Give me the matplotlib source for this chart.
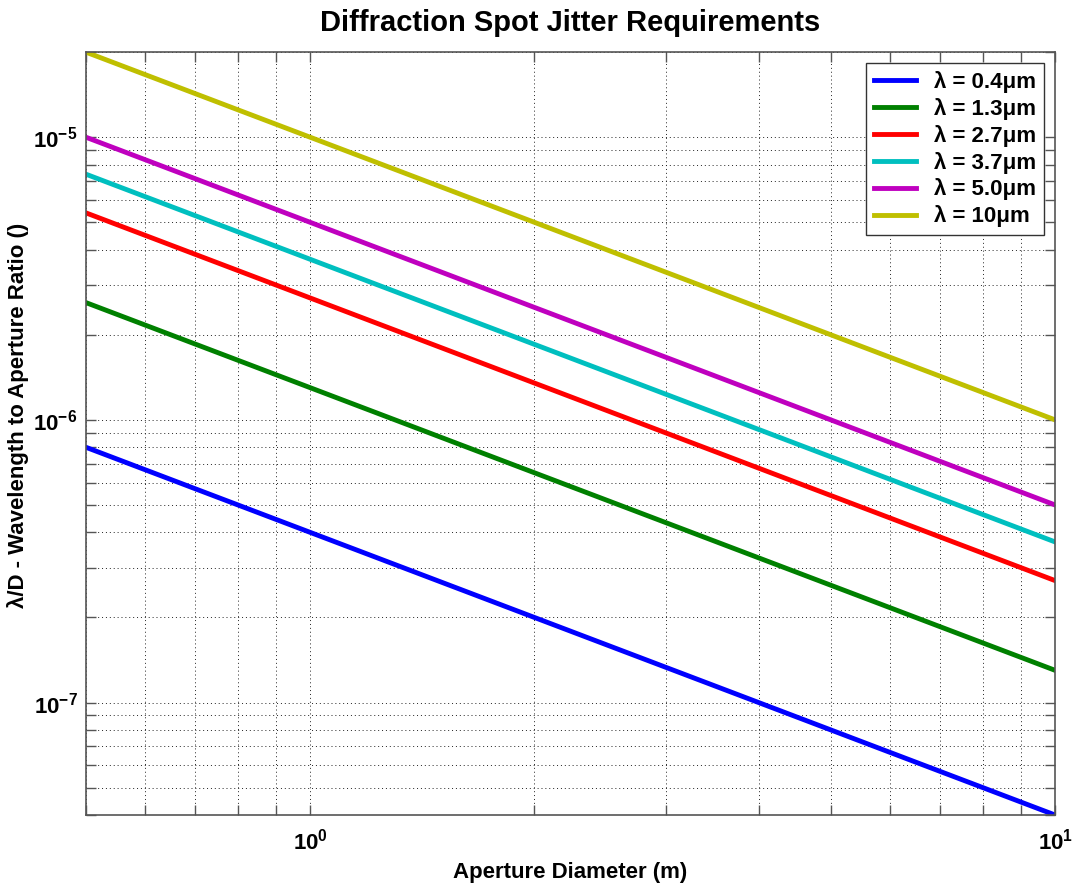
import matplotlib
matplotlib.use('Agg')
import matplotlib.pyplot as plt
from matplotlib.ticker import LogLocator

plt.rcParams['font.family'] = ['Liberation Sans', 'DejaVu Sans']
plt.rcParams['font.weight'] = 'bold'
plt.rcParams['mathtext.fontset'] = 'custom'
plt.rcParams['mathtext.rm'] = 'Liberation Sans:bold'
plt.rcParams['mathtext.bf'] = 'Liberation Sans:bold'
plt.rcParams['mathtext.default'] = 'bf'

# aperture diameter range (m)
diameter = [0.5, 10]

# lambda/D at each end of the diameter range
labels = ['λ = 0.4μm', 'λ = 1.3μm', 'λ = 2.7μm', 'λ = 3.7μm', 'λ = 5.0μm', 'λ = 10μm']
ratio_04 = [8.0e-7, 4.0e-8]
ratio_13 = [2.6e-6, 1.3e-7]
ratio_27 = [5.4e-6, 2.7e-7]
ratio_37 = [7.4e-6, 3.7e-7]
ratio_50 = [1.0e-5, 5.0e-7]
ratio_10 = [2.0e-5, 1.0e-6]
colors = ['#0000ff', '#008000', '#ff0000', '#00bfbf', '#bf00bf', '#bfbf00']

fig = plt.figure(figsize=(10.72, 8.84), dpi=100)
ax = fig.add_axes([0.0802, 0.078, 0.9041, 0.863])

series = [ratio_04, ratio_13, ratio_27, ratio_37, ratio_50, ratio_10]
for y, lab, c in zip(series, labels, colors):
    ax.loglog(diameter, y, color=c, lw=3.5, label=lab)

ax.set_xlim(0.5, 10)
ax.set_ylim(4e-8, 2e-5)

ax.xaxis.set_minor_locator(LogLocator(base=10, subs=range(2, 10)))
ax.yaxis.set_minor_locator(LogLocator(base=10, subs=range(2, 10)))
ax.tick_params(which='both', direction='in', top=True, right=True, color='#555555',
               length=7, width=1)
ax.tick_params(which='major', labelsize=16)
ax.tick_params(axis='x', which='major', pad=10)
ax.tick_params(axis='y', which='major', pad=6)
ax.tick_params(which='minor', labelbottom=False, labelleft=False)
ax.grid(True, which='both', linestyle=(0, (1, 3)), color='#222222', linewidth=0.7)
for s in ax.spines.values():
    s.set_color('#555555')
    s.set_linewidth(1.2)

ax.set_title('Diffraction Spot Jitter Requirements', fontsize=21, fontweight='bold', pad=15)
ax.set_xlabel('Aperture Diameter (m)', fontsize=16, fontweight='bold', labelpad=5)
ax.set_ylabel('λ/D - Wavelength to Aperture Ratio ()', fontsize=16, fontweight='bold')
ax.yaxis.set_label_coords(-0.059, 0.524)

leg = ax.legend(loc='upper right', fontsize=16, fancybox=False, framealpha=1,
                edgecolor='#333333', handlelength=1.9, handletextpad=0.8,
                borderpad=0.35, labelspacing=0.22, borderaxespad=0,
                bbox_to_anchor=(0.9886, 0.9856))
leg.get_frame().set_linewidth(1.0)

fig.savefig('out.png', dpi=100)
